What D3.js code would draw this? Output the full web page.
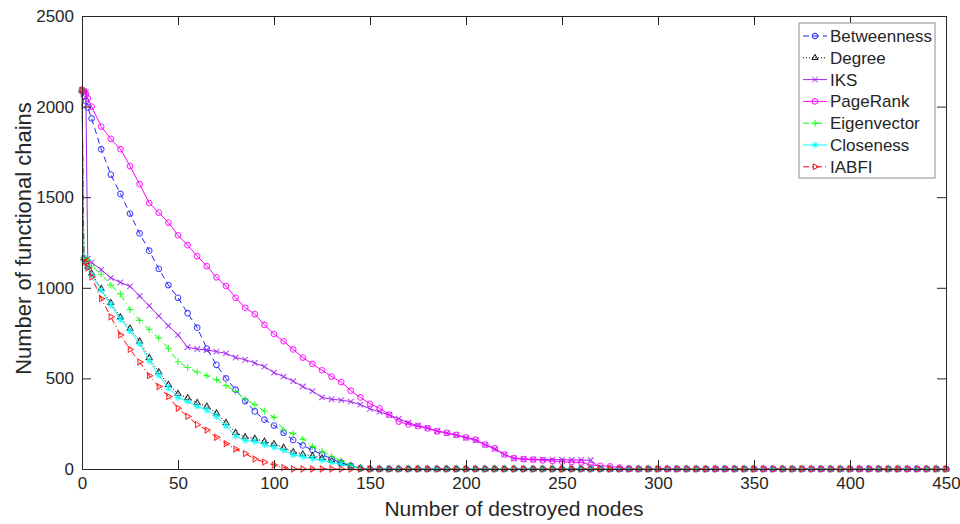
<!DOCTYPE html>
<html>
<head>
<meta charset="utf-8">
<script src="https://cdn.jsdelivr.net/npm/d3@7"></script>
<style>
  body { margin: 0; background: #fff; }
  svg text { font-family: "Liberation Sans", Arial, sans-serif; fill: #262626; }
</style>
</head>
<body>
<svg id="chart" width="960" height="524"></svg>
<script>
// number of destroyed nodes at which the curves were read
var nodes = [0, 1, 2, 3].concat(d3.range(5, 451, 5));

var xTicks = [0, 50, 100, 150, 200, 250, 300, 350, 400, 450];
var yTicks = [0, 500, 1000, 1500, 2000, 2500];

// values: x = 0,1,2,3 then rows of ten from 5 to 450
var betweenness = [2090, 2060, 2030, 1995,
  1935, 1765, 1625, 1518, 1410, 1300, 1205, 1105, 1015, 945,
  860, 780, 665, 575, 500, 438, 375, 318, 272, 240,
  200, 160, 130, 105, 80, 55, 35, 18, 4, 0,
  0, 0, 0, 0, 0, 0, 0, 0, 0, 0,
  0, 0, 0, 0, 0, 0, 0, 0, 0, 0,
  0, 0, 0, 0, 0, 0, 0, 0, 0, 0,
  0, 0, 0, 0, 0, 0, 0, 0, 0, 0,
  0, 0, 0, 0, 0, 0, 0, 0, 0, 0,
  0, 0, 0, 0, 0, 0, 0, 0, 0, 0];

var degree = [2090, 1165, 1145, 1118,
  1080, 995, 917, 838, 776, 705, 614, 535, 465, 415,
  392, 365, 345, 308, 255, 200, 176, 168, 152, 138,
  118, 94, 82, 72, 60, 46, 32, 16, 4, 0,
  0, 0, 0, 0, 0, 0, 0, 0, 0, 0,
  0, 0, 0, 0, 0, 0, 0, 0, 0, 0,
  0, 0, 0, 0, 0, 0, 0, 0, 0, 0,
  0, 0, 0, 0, 0, 0, 0, 0, 0, 0,
  0, 0, 0, 0, 0, 0, 0, 0, 0, 0,
  0, 0, 0, 0, 0, 0, 0, 0, 0, 0];

var iks = [2090, 2085, 2080, 1160,
  1140, 1100, 1055, 1030, 1008, 955, 900, 845, 790, 740,
  672, 662, 657, 648, 638, 615, 603, 585, 565, 532,
  510, 485, 455, 430, 395, 385, 380, 372, 355, 332,
  315, 298, 278, 255, 240, 226, 210, 198, 186, 172,
  158, 134, 110, 80, 58, 55, 53, 52, 52, 52,
  50, 50, 48, 5, 0, 0, 0, 0, 0, 0,
  0, 0, 0, 0, 0, 0, 0, 0, 0, 0,
  0, 0, 0, 0, 0, 0, 0, 0, 0, 0,
  0, 0, 0, 0, 0, 0, 0, 0, 0, 0];

var pagerank = [2090, 2085, 2070, 2045,
  2000, 1890, 1822, 1765, 1672, 1572, 1468, 1415, 1360, 1290,
  1235, 1175, 1120, 1058, 1010, 945, 890, 855, 795, 745,
  705, 660, 615, 580, 545, 510, 480, 432, 395, 360,
  335, 300, 262, 246, 236, 224, 208, 200, 188, 175,
  162, 135, 115, 80, 60, 55, 52, 48, 44, 40,
  38, 36, 22, 18, 14, 8, 2, 0, 0, 0,
  0, 0, 0, 0, 0, 0, 0, 0, 0, 0,
  0, 0, 0, 0, 0, 0, 0, 0, 0, 0,
  0, 0, 0, 0, 0, 0, 0, 0, 0, 0];

var eigenvector = [2090, 1165, 1160, 1155,
  1120, 1075, 1015, 965, 880, 820, 770, 722, 665, 592,
  560, 535, 515, 493, 460, 428, 385, 355, 320, 285,
  215, 195, 165, 125, 98, 70, 45, 18, 3, 0,
  0, 0, 0, 0, 0, 0, 0, 0, 0, 0,
  0, 0, 0, 0, 0, 0, 0, 0, 0, 0,
  0, 0, 0, 0, 0, 0, 0, 0, 0, 0,
  0, 0, 0, 0, 0, 0, 0, 0, 0, 0,
  0, 0, 0, 0, 0, 0, 0, 0, 0, 0,
  0, 0, 0, 0, 0, 0, 0, 0, 0, 0];

var closeness = [2090, 1165, 1140, 1112,
  1070, 985, 905, 825, 762, 690, 597, 517, 448, 395,
  372, 345, 326, 290, 238, 182, 157, 152, 135, 120,
  103, 78, 68, 58, 48, 36, 26, 13, 3, 0,
  0, 0, 0, 0, 0, 0, 0, 0, 0, 0,
  0, 0, 0, 0, 0, 0, 0, 0, 0, 0,
  0, 0, 0, 0, 0, 0, 0, 0, 0, 0,
  0, 0, 0, 0, 0, 0, 0, 0, 0, 0,
  0, 0, 0, 0, 0, 0, 0, 0, 0, 0,
  0, 0, 0, 0, 0, 0, 0, 0, 0, 0];

var iabfi = [2090, 1160, 1140, 1110,
  1060, 940, 840, 740, 660, 590, 515, 455, 400, 335,
  290, 245, 215, 175, 140, 110, 85, 55, 38, 22,
  8, 0, 0, 0, 0, 0, 0, 0, 0, 0,
  0, 0, 0, 0, 0, 0, 0, 0, 0, 0,
  0, 0, 0, 0, 0, 0, 0, 0, 0, 0,
  0, 0, 0, 0, 0, 0, 0, 0, 0, 0,
  0, 0, 0, 0, 0, 0, 0, 0, 0, 0,
  0, 0, 0, 0, 0, 0, 0, 0, 0, 0,
  0, 0, 0, 0, 0, 0, 0, 0, 0, 0];

var series = [
  {name: "Betweenness", values: betweenness, color: "#2020ff", dash: "6,4", marker: "circle"},
  {name: "Degree", values: degree, color: "#000000", dash: "1,2", marker: "triangle"},
  {name: "IKS", values: iks, color: "#a020f0", dash: null, marker: "x"},
  {name: "PageRank", values: pagerank, color: "#ff00ff", dash: null, marker: "circle"},
  {name: "Eigenvector", values: eigenvector, color: "#00ff00", dash: "6,3,1,3", marker: "plus"},
  {name: "Closeness", values: closeness, color: "#00ffff", dash: null, marker: "star"},
  {name: "IABFI", values: iabfi, color: "#ff0000", dash: "6,3,1,3", marker: "triRight"}
];

var svg = d3.select("#chart");
var plotLeft = 82, plotRight = 946, plotTop = 16, plotBottom = 469;

var x = d3.scaleLinear().domain([0, 450]).range([plotLeft, plotRight]);
var y = d3.scaleLinear().domain([0, 2500]).range([plotBottom, plotTop]);

function markerPath(type, s) {
  if (type == "triangle") return "M0," + (-s) + "L" + (s * 0.87) + "," + (s * 0.5) + "L" + (-s * 0.87) + "," + (s * 0.5) + "Z";
  if (type == "triRight") return "M" + s + ",0L" + (-s * 0.5) + "," + (-s * 0.87) + "L" + (-s * 0.5) + "," + (s * 0.87) + "Z";
  if (type == "x") return "M" + (-s) + "," + (-s) + "L" + s + "," + s + "M" + (-s) + "," + s + "L" + s + "," + (-s);
  if (type == "plus") return "M" + (-s) + ",0H" + s + "M0," + (-s) + "V" + s;
  if (type == "star") {
    var d = s * 0.7;
    return "M" + (-s) + ",0H" + s + "M0," + (-s) + "V" + s +
      "M" + (-d) + "," + (-d) + "L" + d + "," + d + "M" + (-d) + "," + d + "L" + d + "," + (-d);
  }
  return d3.symbol(d3.symbolCircle, Math.PI * s * s)();
}

var markerSize = {circle: 2.8, triangle: 3.4, x: 2.8, plus: 3.4, star: 3.4, triRight: 3.4};

var plot = svg.append("g");

var line = d3.line()
  .x(function(d) { return x(d[0]); })
  .y(function(d) { return y(d[1]); });

series.forEach(function(s) {
  var pts = s.values.map(function(v, i) { return [nodes[i], v]; });
  var g = plot.append("g").attr("class", "series");
  g.append("path")
    .attr("d", line(pts))
    .attr("fill", "none")
    .attr("stroke", s.color)
    .attr("stroke-width", 1)
    .attr("stroke-dasharray", s.dash);
  g.selectAll("path.mk")
    .data(pts)
    .enter().append("path")
    .attr("class", "mk")
    .attr("transform", function(d) { return "translate(" + x(d[0]) + "," + y(d[1]) + ")"; })
    .attr("d", markerPath(s.marker, markerSize[s.marker]))
    .attr("fill", "none")
    .attr("stroke", s.color)
    .attr("stroke-opacity", 0.8)
    .attr("stroke-width", 1.1);
});

// axes box, ticks pointing inward
var axisColor = "#262626";
var gx = svg.append("g")
  .attr("transform", "translate(0," + plotBottom + ")")
  .call(d3.axisBottom(x).tickValues(xTicks).tickSizeInner(-9).tickSizeOuter(0).tickPadding(8)
    .tickFormat(d3.format("d")));
var gy = svg.append("g")
  .attr("transform", "translate(" + plotLeft + ",0)")
  .call(d3.axisLeft(y).tickValues(yTicks).tickSizeInner(-9).tickSizeOuter(0).tickPadding(8)
    .tickFormat(d3.format("d")));
var gt = svg.append("g")
  .attr("transform", "translate(0," + plotTop + ")")
  .call(d3.axisTop(x).tickValues(xTicks).tickSizeInner(-9).tickSizeOuter(0).tickFormat(""));
var gr = svg.append("g")
  .attr("transform", "translate(" + plotRight + ",0)")
  .call(d3.axisRight(y).tickValues(yTicks).tickSizeInner(-9).tickSizeOuter(0).tickFormat(""));

[gx, gy, gt, gr].forEach(function(g) {
  g.selectAll("path.domain").attr("stroke", axisColor).attr("stroke-width", 1);
  g.selectAll(".tick line").attr("stroke", axisColor);
  g.selectAll("text")
    .style("font-family", "\"Liberation Sans\", Arial, sans-serif")
    .style("font-size", "17px")
    .attr("fill", axisColor);
});

svg.append("text")
  .attr("x", (plotLeft + plotRight) / 2)
  .attr("y", 516)
  .attr("text-anchor", "middle")
  .style("font-size", "21px")
  .text("Number of destroyed nodes");

svg.append("text")
  .attr("transform", "translate(23," + ((plotTop + plotBottom) / 2 - 4) + ") rotate(-90)")
  .attr("text-anchor", "middle")
  .attr("dy", "0.35em")
  .style("font-size", "22px")
  .text("Number of functional chains");

// legend
var lg = svg.append("g").attr("transform", "translate(799,23)");
lg.append("rect")
  .attr("width", 136).attr("height", 155)
  .attr("fill", "#fff")
  .attr("stroke", "#8c8c8c")
  .attr("stroke-width", 1);

series.forEach(function(s, i) {
  var row = lg.append("g").attr("transform", "translate(0," + (13 + i * 21.8) + ")");
  row.append("line")
    .attr("x1", 4).attr("x2", 28)
    .attr("stroke", s.color)
    .attr("stroke-width", 1)
    .attr("stroke-dasharray", s.dash);
  row.append("path")
    .attr("transform", "translate(16,0)")
    .attr("d", markerPath(s.marker, markerSize[s.marker]))
    .attr("fill", "none")
    .attr("stroke", s.color)
    .attr("stroke-width", 1);
  row.append("text")
    .attr("x", 31)
    .attr("dy", "0.35em")
    .style("font-size", "17px")
    .text(s.name);
});
</script>
</body>
</html>
